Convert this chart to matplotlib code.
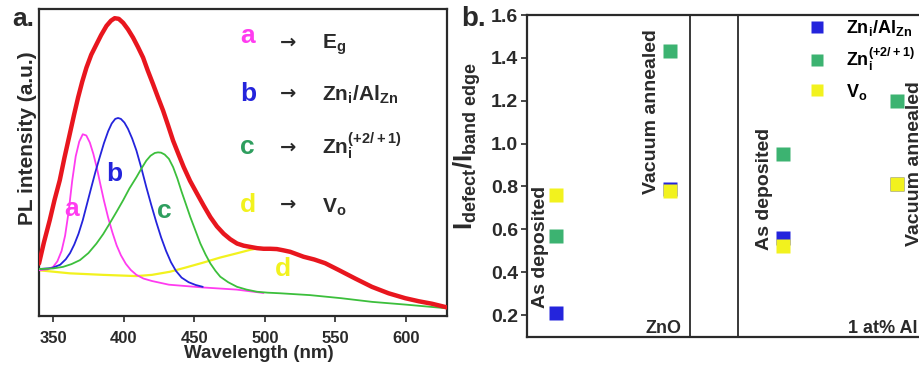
import matplotlib
matplotlib.use("Agg")
import matplotlib.pyplot as plt
from matplotlib.lines import Line2D

plt.rcParams["font.family"] = ["Liberation Sans", "DejaVu Sans"]
plt.rcParams["mathtext.default"] = "regular"

# ---------------- panel a: PL spectrum and its deconvolved components ----------------
wl_total = [340, 343.5, 347.6, 351, 354.7, 358, 361.8, 364.8, 367.7, 370.6, 373.6, 377,
            380.7, 384, 387.8, 391, 393.6, 396.5, 399.6, 403, 406.6, 410, 413.7, 417,
            420.8, 424.3, 427.9, 431.5, 435, 438.8, 442.5, 447, 452, 456.7, 461.4, 466,
            470.8, 475.5, 480.3, 485, 489.7, 494.5, 499.1, 503.8, 508.5, 513, 518, 522.7,
            527.4, 535, 542.7, 552.2, 564, 575.8, 587.6, 599.4, 609, 618.3, 629]
pl_total = [0.171, 0.240, 0.312, 0.378, 0.442, 0.515, 0.593, 0.655, 0.712, 0.763, 0.809,
            0.851, 0.885, 0.915, 0.945, 0.962, 0.970, 0.968, 0.955, 0.934, 0.907, 0.877,
            0.842, 0.800, 0.755, 0.712, 0.669, 0.620, 0.571, 0.527, 0.485, 0.440, 0.398,
            0.359, 0.322, 0.292, 0.268, 0.250, 0.236, 0.229, 0.225, 0.221, 0.219, 0.219,
            0.218, 0.214, 0.209, 0.201, 0.193, 0.184, 0.172, 0.150, 0.122, 0.095, 0.074,
            0.058, 0.048, 0.040, 0.028]

wl_a = [340, 346, 350, 353, 356, 358.5, 361, 363.5, 366, 368.5, 371, 373.5, 376, 378.5,
        381, 383.5, 386, 389, 392, 395, 398, 401.5, 405, 409, 414, 420, 432, 456, 480, 499]
pl_a = [0.149, 0.152, 0.160, 0.178, 0.212, 0.262, 0.340, 0.440, 0.520, 0.568, 0.592,
        0.588, 0.565, 0.528, 0.482, 0.428, 0.376, 0.320, 0.272, 0.230, 0.198, 0.170,
        0.150, 0.134, 0.122, 0.114, 0.102, 0.093, 0.086, 0.075]

wl_b = [340, 349, 355, 359, 362, 365, 368, 371, 374, 377, 380, 383, 386, 389, 391.5, 394,
        396, 398, 400.5, 403, 406, 409, 412.5, 416, 419.5, 423, 426.5, 430, 433.5, 437,
        441, 446, 451, 456]
pl_b = [0.153, 0.156, 0.167, 0.185, 0.205, 0.233, 0.268, 0.312, 0.365, 0.418, 0.470,
        0.517, 0.563, 0.602, 0.627, 0.642, 0.645, 0.642, 0.630, 0.610, 0.578, 0.539,
        0.482, 0.420, 0.362, 0.307, 0.256, 0.212, 0.175, 0.147, 0.125, 0.110, 0.101,
        0.095]

wl_c = [340, 350, 357, 363, 369, 375, 380.7, 385.5, 390, 395, 399.6, 404, 409, 412.5,
        416, 419, 422, 424.3, 426.5, 429, 432, 435, 438, 441, 444, 447.2, 451, 454.3, 458,
        461.4, 465, 468.4, 474, 480.3, 487, 494.4, 502, 510.9, 532, 554, 576, 600, 629]
pl_c = [0.153, 0.155, 0.160, 0.169, 0.182, 0.205, 0.236, 0.267, 0.301, 0.340, 0.377,
        0.415, 0.452, 0.480, 0.506, 0.522, 0.531, 0.533, 0.532, 0.526, 0.512, 0.485,
        0.448, 0.405, 0.365, 0.322, 0.276, 0.236, 0.200, 0.171, 0.147, 0.128, 0.110,
        0.095, 0.086, 0.079, 0.076, 0.074, 0.068, 0.058, 0.046, 0.037, 0.025]

wl_d = [340, 361.8, 385.4, 409, 420, 432.6, 444, 456.4, 468, 480, 490, 497]
pl_d = [0.149, 0.139, 0.134, 0.130, 0.134, 0.144, 0.158, 0.174, 0.190, 0.204, 0.216, 0.222]

wl_ticks = [350, 400, 450, 500, 550, 600]

# ---------------- panel b: defect / band-edge intensity ratios ----------------
sample_pos = [1, 2, 3, 4]   # ZnO as-dep., ZnO vac.-ann., 1 at% Al as-dep., 1 at% Al vac.-ann.
ratio_zni_alzn = [0.21, 0.79, 0.56, 0.81]
ratio_zni = [0.57, 1.43, 0.95, 1.20]
ratio_vo = [0.76, 0.78, 0.52, 0.81]
ratio_ticks = [0.2, 0.4, 0.6, 0.8, 1.0, 1.2, 1.4, 1.6]

C_RED = "#e8161e"
C_MAG = "#ff3cf0"
C_BLUE = "#2424dc"
C_GREEN = "#3cbf3c"
C_YEL = "#f2f21e"
C_DARK = "#2a2a2a"

W, H = 920, 369
fig = plt.figure(figsize=(W / 100, H / 100), dpi=100)


def px_box(left, top, right, bottom):
    return [left / W, 1 - bottom / H, (right - left) / W, (bottom - top) / H]


# ---- panel a ----
axA = fig.add_axes(px_box(39, 9, 447, 316))
line_kw = dict(solid_joinstyle="round", solid_capstyle="round")
axA.plot(wl_d, pl_d, color=C_YEL, lw=1.6, zorder=2, **line_kw)
axA.plot(wl_a, pl_a, color=C_MAG, lw=1.3, zorder=3, **line_kw)
axA.plot(wl_b, pl_b, color=C_BLUE, lw=1.3, zorder=3, **line_kw)
axA.plot(wl_c, pl_c, color=C_GREEN, lw=1.3, zorder=3, **line_kw)
axA.plot(wl_total, pl_total, color=C_RED, lw=3.2, zorder=4, **line_kw)

axA.set_xlim(340, 629)
axA.set_ylim(0, 1)
axA.set_xticks(wl_ticks)
axA.set_yticks([])
axA.tick_params(axis="x", direction="out", length=4, width=1.2, colors=C_DARK,
                labelsize=12, pad=7)
for lab in axA.get_xticklabels():
    lab.set_fontweight("bold")
for sp in axA.spines.values():
    sp.set_linewidth(1.6)
    sp.set_color(C_DARK)

axA.set_xlabel("Wavelength (nm)", fontsize=13.5, fontweight="bold", color=C_DARK)
axA.xaxis.set_label_coords(0.539, -0.093)
axA.set_ylabel("PL intensity (a.u.)", fontsize=15, fontweight="bold", color=C_DARK)
axA.yaxis.set_label_coords(-0.004, 0.578)

# component letters on the curves
for txt, x, y, col in [("a", 363, 0.347, C_MAG), ("b", 393.5, 0.461, C_BLUE),
                       ("c", 428.8, 0.341, "#2e9e5e"), ("d", 512.7, 0.153, C_YEL)]:
    axA.text(x, y, txt, color=col, fontsize=19, fontweight="bold", ha="center", va="center")

# assignment key
key_rows = [("a", C_MAG, r"$E_g$", 0.89, 0.87, 0.893),
            ("b", C_BLUE, r"$Zn_i/Al_{Zn}$", 0.701, 0.701, 0.725),
            ("c", "#2e9e5e", r"$Zn_i^{(+2/+1)}$", 0.529, 0.529, 0.550),
            ("d", C_YEL, r"$V_o$", 0.338, 0.335, 0.364)]
for letter, col, label, yl, yt, ya in key_rows:
    axA.text(482.6, yl, letter, color=col, fontsize=19, fontweight="bold",
             ha="left", va="baseline")
    axA.text(516.6, ya, "\u2192", color=C_DARK, fontsize=14, fontweight="bold",
             ha="center", va="center", family=["DejaVu Sans"])
    axA.text(540.6, yt, label, color=C_DARK, fontsize=15, fontweight="bold",
             ha="left", va="baseline")

fig.text(12 / W, 1 - 26 / H, "a.", fontsize=19, fontweight="bold", color=C_DARK,
         ha="left", va="baseline")

# ---- panel b ----
axB = fig.add_axes(px_box(526.7, 15, 954, 336.7))
ms = 9.5
axB.plot(sample_pos, ratio_zni_alzn, "s", color=C_BLUE, ms=ms, mec="none", zorder=3)
axB.plot(sample_pos, ratio_zni, "s", color="#3cb371", ms=ms, mec="none", zorder=3)
axB.plot(sample_pos, ratio_vo, "s", color=C_YEL, ms=ms, mec="none", zorder=4)

axB.set_xlim(0.745, 4.5)
axB.set_ylim(0.099, 1.6)
axB.set_xticks([])
axB.set_yticks(ratio_ticks)
axB.set_yticklabels([f"{v:.1f}" for v in ratio_ticks])
axB.tick_params(axis="y", direction="out", length=4, width=1.2, colors=C_DARK,
                labelsize=14, pad=2)
for lab in axB.get_yticklabels():
    lab.set_fontweight("bold")
for sp in axB.spines.values():
    sp.set_linewidth(1.6)
    sp.set_color(C_DARK)
axB.spines["right"].set_visible(False)

# separators between the two sample groups
for xs in (2.176, 2.598):
    axB.axvline(xs, color=C_DARK, lw=1.3)

axB.set_ylabel(r"$I_{defect}/I_{band\ edge}$", fontsize=18.5, fontweight="bold", color=C_DARK)
axB.yaxis.set_label_coords(-0.102, 0.593)

for txt, x, y in [("As deposited", 0.862, 0.517), ("Vacuum annealed", 1.842, 1.15),
                  ("As deposited", 2.837, 0.788), ("Vacuum annealed", 4.154, 0.909)]:
    axB.text(x, y, txt, rotation=90, fontsize=14, fontweight="bold", color=C_DARK,
             ha="center", va="center")

axB.text(1.95, 0.118, "ZnO", fontsize=13, fontweight="bold", color=C_DARK,
         ha="center", va="baseline")
axB.text(3.566, 0.118, "1 at% Al:ZnO", fontsize=13, fontweight="bold", color=C_DARK,
         ha="left", va="baseline")

handles = [Line2D([], [], ls="none", marker="s", ms=9, color=C_BLUE, mec="none"),
           Line2D([], [], ls="none", marker="s", ms=9, color="#3cb371", mec="none"),
           Line2D([], [], ls="none", marker="s", ms=9, color=C_YEL, mec="none")]
labels = [r"$Zn_i/Al_{Zn}$", r"$Zn_i^{(+2/+1)}$", r"$V_o$"]
fig.legend(handles, labels, loc="upper left", bbox_to_anchor=(808 / W, 1 - 18 / H),
           frameon=False, prop={"weight": "bold", "size": 13},
           borderpad=0, borderaxespad=0, handlelength=1.0, handletextpad=1.1,
           labelspacing=0.45)

fig.text(461 / W, 1 - 26 / H, "b.", fontsize=20, fontweight="bold", color=C_DARK,
         ha="left", va="baseline")

fig.savefig("out.png", dpi=100, facecolor="white")
